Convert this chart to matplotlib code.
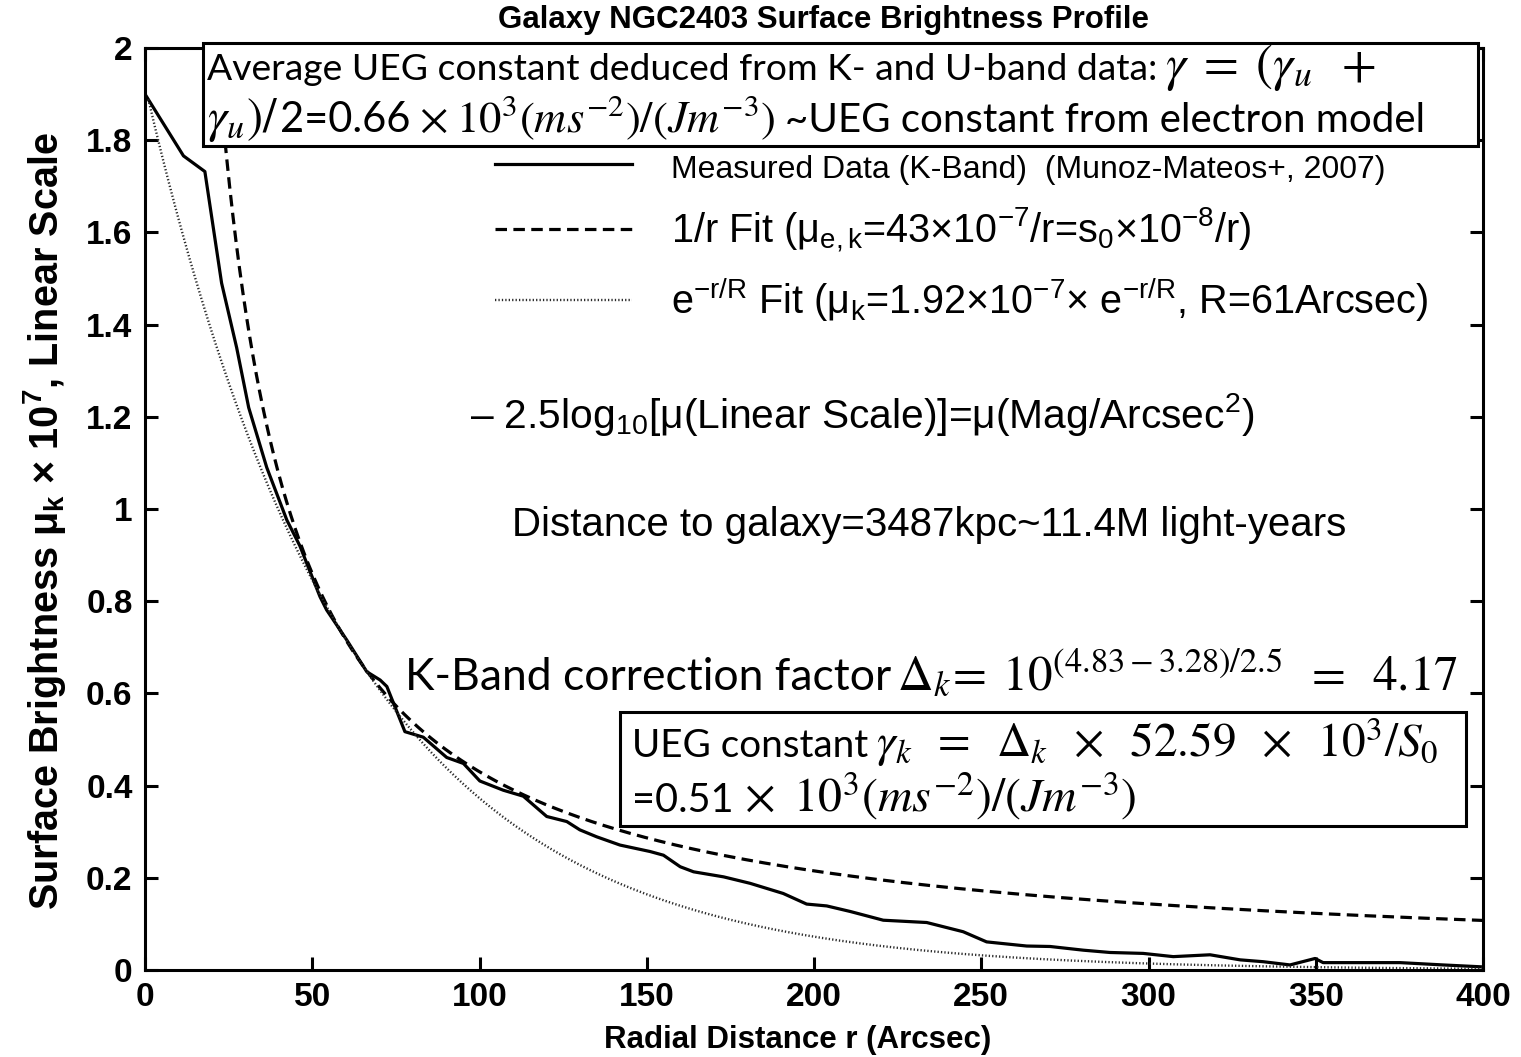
import numpy as np
import matplotlib
matplotlib.use("Agg")
import matplotlib.pyplot as plt
from matplotlib.patches import Rectangle

# ---------------- data ----------------
r_meas = [0, 11.5, 17.9, 22.9, 27.4, 31.0, 36.4, 42.4, 46.3, 52.3, 54.3, 60.3,
          66.3, 70.3, 72.3, 77.7, 83.2, 90.2, 95.2, 100.1, 107.1, 113.1, 120.1,
          126.1, 130.0, 135.0, 142.0, 151.0, 155.0, 160.0, 164.0, 173.0, 180.9,
          190.8, 197.8, 203.8, 210.8, 220.7, 233.7, 244.6, 251.6, 263.6, 270.6,
          280.5, 288.5, 298.4, 307.4, 318.4, 327.4, 334.3, 342.3, 349.8, 352.2,
          365.3, 375.2, 388.0, 399.2]
mu_meas = [1.90, 1.766, 1.732, 1.49, 1.35, 1.22, 1.09, 0.976, 0.92, 0.81, 0.781,
           0.716, 0.647, 0.629, 0.615, 0.517, 0.505, 0.461, 0.448, 0.41, 0.39,
           0.377, 0.333, 0.322, 0.304, 0.289, 0.271, 0.257, 0.249, 0.224, 0.213,
           0.202, 0.188, 0.166, 0.143, 0.139, 0.127, 0.108, 0.103, 0.083, 0.061,
           0.052, 0.051, 0.043, 0.038, 0.036, 0.029, 0.033, 0.022, 0.018, 0.011,
           0.025, 0.016, 0.016, 0.016, 0.011, 0.007]

# fit parameters stated in the legend (units of 1e-7)
inv_r_amp = 43.0        # mu_e,k = 43e-7 / r
exp_amp = 1.92          # mu_k = 1.92e-7 * exp(-r/R)
exp_R = 61.0            # R = 61 arcsec

x_ticks = [0, 50, 100, 150, 200, 250, 300, 350, 400]
y_ticks = [0, 0.2, 0.4, 0.6, 0.8, 1.0, 1.2, 1.4, 1.6, 1.8, 2.0]
y_ticklabels = ["0", "0.2", "0.4", "0.6", "0.8", "1", "1.2", "1.4", "1.6", "1.8", "2"]

legend_labels = [
    "Measured Data (K-Band)  (Munoz-Mateos+, 2007)",
    r"1/r Fit (μ$_{\mathrm{e,k}}$=43×10$^{\mathrm{-7}}$/r=s$_{\mathrm{0}}$×10$^{\mathrm{-8}}$/r)",
    r"e$^{\mathrm{-r/R}}$ Fit (μ$_{\mathrm{k}}$=1.92×10$^{\mathrm{-7}}$× e$^{\mathrm{-r/R}}$, R=61Arcsec)",
]

# ---------------- style ----------------
plt.rcParams["font.family"] = ["Liberation Sans", "DejaVu Sans"]
plt.rcParams["mathtext.fontset"] = "custom"
plt.rcParams["mathtext.rm"] = "Liberation Sans"
plt.rcParams["mathtext.it"] = "Liberation Sans:italic"
plt.rcParams["mathtext.bf"] = "Liberation Sans:bold"

W, H = 1521, 1057
fig = plt.figure(figsize=(W / 100, H / 100), dpi=100)
ax = fig.add_axes([145 / W, (H - 970) / H, 1338 / W, 922 / H])


def fx(px):
    return px / W


def fy(py):
    return 1 - py / H


r_fit = np.linspace(1, 400, 1200)
l1, = ax.plot(r_meas, mu_meas, color="black", lw=2.3, solid_joinstyle="round")
l2, = ax.plot(r_fit, inv_r_amp / r_fit, color="black", lw=2.3, linestyle=(0, (3.6, 2.0)))
l3, = ax.plot(r_fit, exp_amp * np.exp(-r_fit / exp_R), color="#2a2a2a", lw=1.7,
              linestyle=(0, (0.55, 0.9)))

ax.set_xlim(0, 400)
ax.set_ylim(0, 2)
ax.set_xticks(x_ticks)
ax.set_yticks(y_ticks)
ax.set_yticklabels(y_ticklabels)
for s in ax.spines.values():
    s.set_linewidth(2.2)
ax.tick_params(direction="in", length=9.5, width=2.2, top=True, right=True,
               labelsize=24, pad=9)
for lab in ax.get_xticklabels() + ax.get_yticklabels():
    lab.set_fontweight("bold")

leg = ax.legend([l1, l2, l3], legend_labels, loc="upper left",
                bbox_to_anchor=(0.2496, 0.906), frameon=False, fontsize=28.5,
                handlelength=3.46, handletextpad=1.0, labelspacing=0.52,
                borderaxespad=0)
leg.get_texts()[0].set_fontsize(23)

# axis labels and title
fig.text(fx(824), fy(20), "Galaxy NGC2403 Surface Brightness Profile",
         ha="center", va="center", fontsize=22.5, fontweight="bold")
fig.text(fx(798), fy(1040), "Radial Distance r (Arcsec)", ha="center",
         va="center", fontsize=22.5, fontweight="bold")
fig.text(fx(45), fy(521), r"Surface Brightness μ$_{\mathbf{k}}$ × 10$^{\mathbf{7}}$, Linear Scale",
         ha="center", va="center", rotation=90, fontsize=28.5, fontweight="bold")

# annotations (Arial-like)
fig.text(fx(470), fy(415), r"– 2.5log$_{\mathrm{10}}$[μ(Linear Scale)]=μ(Mag/Arcsec$^{\mathrm{2}}$)",
         ha="left", va="center", fontsize=29.3)
fig.text(fx(512), fy(525), "Distance to galaxy=3487kpc~11.4M light-years",
         ha="left", va="center", fontsize=29)

# Calibri-like notes with Cambria-like math, placed segment by segment
renderer = fig.canvas.get_renderer()
TXT = dict(family=["Lato", "DejaVu Sans"])
MTH = dict(family=["Lato", "DejaVu Sans"], math_fontfamily="stix")


def chain(x_px, y_base, segs, zorder=6):
    x = x_px
    for seg in segs:
        if isinstance(seg, (int, float)):
            x += seg
            continue
        s, size, kw = seg
        t = fig.text(fx(x), fy(y_base), s, ha="left", va="baseline",
                     fontsize=size, zorder=zorder, **kw)
        x += t.get_window_extent(renderer=renderer).width
    return x


box1 = Rectangle((fx(203), fy(146)), (1478 - 203) / W, (146 - 43) / H,
                 transform=fig.transFigure, facecolor="white", edgecolor="black",
                 lw=2.2, zorder=5)
fig.add_artist(box1)
chain(207, 80, [
    ("Average UEG constant deduced from K- and U-band data:", 26.8, TXT), 8,
    (r"$\gamma\;=\;(\gamma_u\;\;+$", 36.5, MTH)])
chain(207, 132, [
    (r"$\gamma_u)/$", 35, MTH), 2,
    ("2=0.66", 30, TXT), 8,
    (r"$\times\;10^3(ms^{-2})/(Jm^{-3})$", 32, MTH), 10,
    ("~UEG constant from electron model", 29, TXT)])

chain(405, 690, [
    ("K-Band correction factor", 32, TXT), 6,
    (r"$\Delta_k\!=\;10^{(4.83-3.28)/2.5}\;\;=\;\;4.17$", 35.5, MTH)])

box2 = Rectangle((fx(620), fy(826)), (1466 - 620) / W, (826 - 712) / H,
                 transform=fig.transFigure, facecolor="white", edgecolor="black",
                 lw=2.2, zorder=5)
fig.add_artist(box2)
chain(632, 757, [
    ("UEG constant", 27.8, TXT), 8,
    (r"$\gamma_k\;\;=\;\;\Delta_k\;\;\times\;\;52.59\;\;\times\;\;10^3/S_0$", 34, MTH)])
chain(632, 812, [
    ("=0.51", 28.5, TXT), 10,
    (r"$\times\;\;10^3(ms^{-2})/(Jm^{-3})$", 34.5, MTH)])

fig.savefig("out.png", dpi=100)
